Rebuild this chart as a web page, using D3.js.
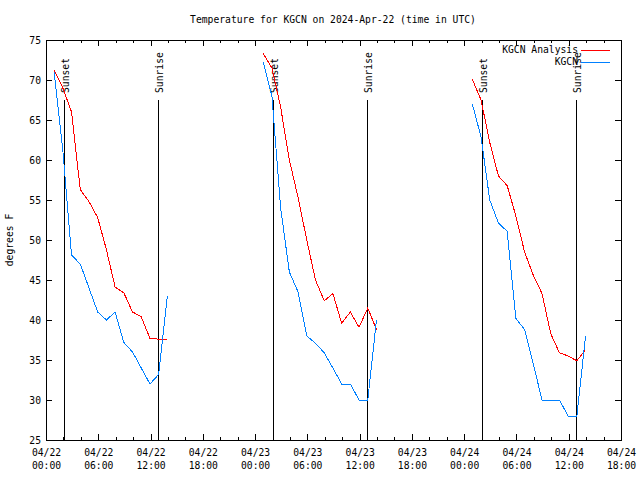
<!DOCTYPE html>
<html><head><meta charset="utf-8">
<script src="https://cdn.jsdelivr.net/npm/d3@7"></script>
<style>
body{margin:0;background:#fff}
svg text{font-family:"DejaVu Sans Mono","Liberation Mono",monospace;font-size:9.7px;fill:#000}
</style>
</head><body>
<svg id="c" width="640" height="480"></svg>
<script>
const chartTitle = "Temperature for KGCN on 2024-Apr-22 (time in UTC)";
const yAxisLabel = "degrees F";
const seriesNames = ["KGCN Analysis", "KGCN"];
const seriesColors = ["#ff0000", "#0080ff"];

const obsTimes = [
  "2024-04-22T00:56Z","2024-04-22T01:56Z","2024-04-22T02:56Z","2024-04-22T03:56Z","2024-04-22T04:56Z",
  "2024-04-22T05:56Z","2024-04-22T06:56Z","2024-04-22T07:56Z","2024-04-22T08:56Z","2024-04-22T09:56Z",
  "2024-04-22T10:56Z","2024-04-22T11:56Z","2024-04-22T12:56Z","2024-04-22T13:56Z",
  "2024-04-23T00:56Z","2024-04-23T01:56Z","2024-04-23T02:56Z","2024-04-23T03:56Z","2024-04-23T04:56Z",
  "2024-04-23T05:56Z","2024-04-23T06:56Z","2024-04-23T07:56Z","2024-04-23T08:56Z","2024-04-23T09:56Z",
  "2024-04-23T10:56Z","2024-04-23T11:56Z","2024-04-23T12:56Z","2024-04-23T13:56Z",
  "2024-04-24T00:56Z","2024-04-24T01:56Z","2024-04-24T02:56Z","2024-04-24T03:56Z","2024-04-24T04:56Z",
  "2024-04-24T05:56Z","2024-04-24T06:56Z","2024-04-24T07:56Z","2024-04-24T08:56Z","2024-04-24T09:56Z",
  "2024-04-24T10:56Z","2024-04-24T11:56Z","2024-04-24T12:56Z","2024-04-24T13:56Z"
];
const analysisTemps = [
  71.2, 69.0, 66.0, 56.3, 54.8, 52.8, 48.8, 44.1, 43.4, 41.0, 40.4, 37.7, 37.6, 37.5,
  73.3, 71.5, 66.6, 60.0, 55.3, 50.0, 45.0, 42.4, 43.3, 39.6, 41.0, 39.1, 41.5, 38.8,
  70.1, 67.5, 62.2, 58.0, 56.8, 53.0, 48.5, 45.6, 43.3, 38.3, 35.9, 35.5, 34.9, 36.3
];
const obsTemps = [
  71.0, 61.2, 48.1, 47.0, 44.0, 41.0, 40.0, 41.0, 37.2, 36.0, 34.0, 32.0, 33.2, 43.0,
  72.2, 68.0, 54.0, 46.0, 43.5, 38.0, 37.1, 35.9, 34.0, 32.0, 32.0, 30.0, 30.0, 40.0,
  67.0, 62.9, 55.0, 52.1, 51.1, 40.2, 38.8, 34.5, 30.0, 30.0, 30.0, 28.0, 28.0, 38.0
];
const sunLabels = ["Sunset", "Sunrise", "Sunset", "Sunrise", "Sunset", "Sunrise"];
const sunTimes = ["2024-04-22T02:07Z","2024-04-22T12:54Z","2024-04-23T02:05Z",
                  "2024-04-23T12:53Z","2024-04-24T02:05Z","2024-04-24T12:52Z"];
const sunLineTop = 67.5;
const xDomain = ["2024-04-22T00:00Z", "2024-04-24T18:00Z"];
const xTickTimes = ["2024-04-22T00:00Z","2024-04-22T06:00Z","2024-04-22T12:00Z","2024-04-22T18:00Z",
                    "2024-04-23T00:00Z","2024-04-23T06:00Z","2024-04-23T12:00Z","2024-04-23T18:00Z",
                    "2024-04-24T00:00Z","2024-04-24T06:00Z","2024-04-24T12:00Z","2024-04-24T18:00Z"];
const yDomain = [25, 75];
const yTicks = [25, 30, 35, 40, 45, 50, 55, 60, 65, 70, 75];

const L = 46, R = 621, T = 40, B = 440;
const svg = d3.select("#c");
const x = d3.scaleUtc().domain(xDomain.map(d => new Date(d))).range([L, R]);
const y = d3.scaleLinear().domain(yDomain).range([B, T]);

const majorTicks = xTickTimes.map(d => new Date(d));
const minorTicks = d3.utcHour.every(2).range(x.domain()[0], x.domain()[1]);

function minorAxis(axisFn, translate) {
  const g = svg.append("g").attr("transform", translate)
    .call(axisFn(x).tickValues(minorTicks).tickSize(-3).tickFormat(""));
  g.select(".domain").remove();
  g.selectAll("line").attr("shape-rendering", "crispEdges");
}
minorAxis(d3.axisBottom, `translate(0,${B})`);
minorAxis(d3.axisTop, `translate(0,${T})`);

const fmt1 = d3.utcFormat("%m/%d"), fmt2 = d3.utcFormat("%H:%M");
const gx = svg.append("g").attr("transform", `translate(0,${B})`)
  .call(d3.axisBottom(x).tickValues(majorTicks).tickSize(-6).tickPadding(8).tickFormat(""));
gx.select(".domain").remove();
gx.selectAll("line").attr("shape-rendering", "crispEdges");
gx.selectAll(".tick").append("text")
  .attr("fill", "#000").attr("text-anchor", "middle").attr("y", 16)
  .call(t => {
    t.append("tspan").attr("x", 0).text(d => fmt1(d));
    t.append("tspan").attr("x", 0).attr("dy", 13).text(d => fmt2(d));
  });
const gxt = svg.append("g").attr("transform", `translate(0,${T})`)
  .call(d3.axisTop(x).tickValues(majorTicks).tickSize(-6).tickFormat(""));
gxt.select(".domain").remove();
gxt.selectAll("line").attr("shape-rendering", "crispEdges");

const gy = svg.append("g").attr("transform", `translate(${L},0)`)
  .call(d3.axisLeft(y).tickValues(yTicks).tickSize(-6).tickPadding(5).tickFormat(d3.format("d")));
gy.select(".domain").remove();
gy.selectAll("line").attr("shape-rendering", "crispEdges");
gy.selectAll("text").attr("dy", "0.35em");
const gyr = svg.append("g").attr("transform", `translate(${R},0)`)
  .call(d3.axisRight(y).tickValues(yTicks).tickSize(-6).tickFormat(""));
gyr.select(".domain").remove();
gyr.selectAll("line").attr("shape-rendering", "crispEdges");
svg.selectAll(".tick text").attr("font-family", null).attr("font-size", null);

svg.append("rect").attr("x", L + 0.5).attr("y", T + 0.5).attr("width", R - L).attr("height", B - T)
  .attr("fill", "none").attr("stroke", "#000").attr("stroke-width", 1).attr("shape-rendering", "crispEdges");

sunTimes.forEach((t, i) => {
  const xx = Math.round(x(new Date(t))) + 0.5;
  svg.append("line").attr("x1", xx).attr("x2", xx).attr("y1", y(sunLineTop)).attr("y2", B)
    .attr("stroke", "#000").attr("stroke-width", 1).attr("shape-rendering", "crispEdges");
  svg.append("text").attr("transform", `translate(${xx + 4},${y(sunLineTop) - 7}) rotate(-90)`)
    .attr("text-anchor", "start").text(sunLabels[i]);
});

function segments(vals) {
  const pts = obsTimes.map((t, i) => ({ t: new Date(t), v: vals[i] }));
  const segs = [];
  let cur = [];
  pts.forEach((p, i) => {
    if (i > 0 && (p.t - pts[i - 1].t) > 3 * 3600e3) { segs.push(cur); cur = []; }
    cur.push(p);
  });
  segs.push(cur);
  return segs;
}
const line = d3.line().x(d => x(d.t)).y(d => y(d.v));
[analysisTemps, obsTemps].forEach((vals, si) => {
  segments(vals).forEach(seg => {
    svg.append("path").attr("d", line(seg)).attr("fill", "none")
      .attr("stroke", seriesColors[si]).attr("stroke-width", 1)
      .attr("shape-rendering", "crispEdges");
  });
});

seriesNames.forEach((n, i) => {
  const ly = 49.5 + i * 12.5;
  svg.append("text").attr("x", 578).attr("y", ly).attr("dy", "0.35em").attr("text-anchor", "end").text(n);
  svg.append("line").attr("x1", 581).attr("x2", 610).attr("y1", Math.round(ly) + 0.5).attr("y2", Math.round(ly) + 0.5)
    .attr("stroke", seriesColors[i]).attr("stroke-width", 1).attr("shape-rendering", "crispEdges");
});

svg.append("text").attr("x", 333).attr("y", 23).attr("text-anchor", "middle").text(chartTitle);
svg.append("text").attr("transform", `translate(13,${(T + B) / 2}) rotate(-90)`)
  .attr("text-anchor", "middle").text(yAxisLabel);
</script>
</body></html>
